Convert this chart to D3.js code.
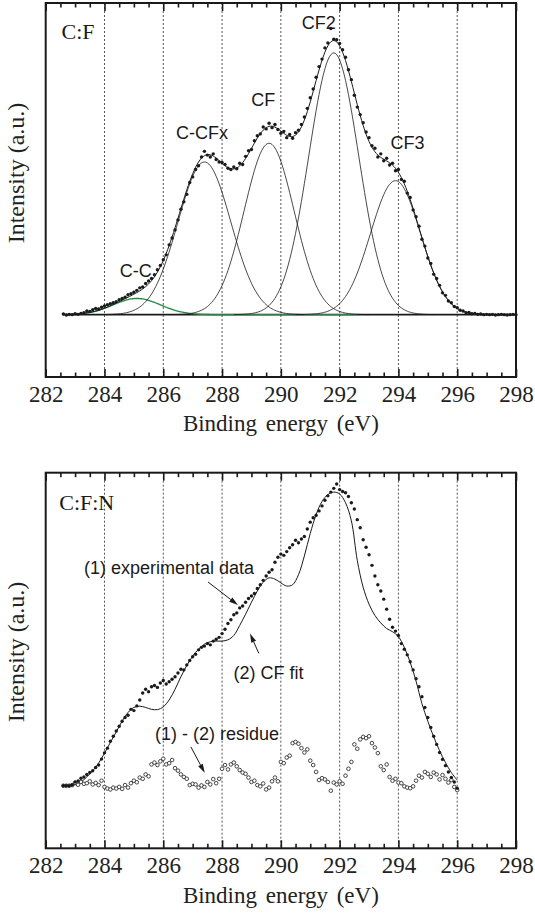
<!DOCTYPE html>
<html>
<head>
<meta charset="utf-8">
<script src="https://cdn.jsdelivr.net/npm/d3@7"></script>
<style>
  body { margin: 0; background: #fff; }
  #visualization { width: 535px; height: 913px; }
</style>
</head>
<body>
<div id="visualization"></div>
<script>

// ---- data ----
// C:F spectrum, dots, start 282.6 eV, one point every 0.1 eV
var cf_start = 282.6, cf_step = 0.1;
var cf_data = [
  0.2, -0.1, 0.1, 0.0, 0.3, 0.1, 0.4, 0.6, 1.2, 1.0,
  1.6, 2.0, 1.8, 2.4, 2.8, 3.2, 3.5, 3.8, 4.2, 4.8,
  5.2, 5.6, 6.4, 6.7, 7.2, 7.8, 8.6, 8.9, 10.0, 10.8,
  11.6, 12.8, 14.4, 15.8, 17.6, 19.2, 22.4, 24.6, 27.2, 30.4,
  33.8, 36.2, 38.6, 42.4, 44.2, 46.6, 47.8, 50.6, 52.4, 51.2,
  50.6, 51.6, 49.8, 49.0, 48.8, 48.2, 47.0, 46.6, 47.4, 46.8,
  48.6, 48.2, 50.8, 52.6, 53.0, 55.8, 57.4, 58.0, 60.2, 59.6,
  61.4, 60.0, 61.0, 59.4, 58.2, 58.8, 56.8, 57.8, 56.6, 58.4,
  59.2, 61.0, 63.4, 66.2, 69.6, 72.4, 76.2, 79.6, 82.0, 85.6,
  87.2, 91.8, 88.4, 88.2, 87.0, 85.0, 82.6, 78.6, 75.4, 70.4,
  66.6, 64.2, 61.6, 58.6, 56.8, 54.2, 53.4, 50.6, 51.6, 49.4,
  50.2, 48.0, 48.6, 46.2, 46.6, 43.4, 42.8, 39.0, 37.6, 33.6,
  31.4, 28.4, 24.2, 22.0, 18.2, 16.4, 13.0, 11.6, 9.4, 7.0,
  6.2, 4.4, 3.8, 2.6, 2.2, 1.4, 1.2, 0.6, 0.7, 0.3,
  0.4, 0.1, 0.2, 0.0, 0.1, 0.0, 0.1, -0.1, 0.0, 0.1,
  0.0, -0.1, 0.0, 0.1, 0.0
];

// fitted peaks of the C:F spectrum (centre eV, height, width)
var peak_names   = ["C-C", "C-CFx", "CF", "CF2", "CF3"];
var peak_centers = [285.1, 287.4, 289.6, 291.8, 293.9];
var peak_heights = [5.2, 49, 55, 84, 43];
var peak_widths  = [0.8, 0.9, 0.85, 0.85, 0.85];
var peak_from    = [283.0, 284.0, 286.2, 288.4, 290.5];
var peak_to      = [292.6, 290.8, 293.0, 295.2, 297.3];
var baseline_range = [282.6, 298];

// C:F:N spectrum, start 282.6 eV, every 0.1 eV
var cfn_start = 282.6, cfn_step = 0.1;
var cfn_data = [
  0, 0, 0, 0.2, 1.2, 1.5, 2.4, 2.8, 3.6, 4.2,
  4.8, 5.8, 6.6, 8.5, 10.5, 12.0, 14.2, 15.8, 17.5, 19.0,
  20.6, 21.8, 22.5, 24.4, 24.0, 25.5, 27.4, 29.6, 30.8, 30.0,
  31.6, 32.0, 31.4, 32.8, 33.6, 32.5, 33.2, 34.0, 34.8, 36.0,
  37.2, 37.0, 38.6, 40.0, 41.2, 42.0, 43.4, 44.2, 44.6, 45.4,
  45.0, 46.2, 46.8, 47.4, 48.6, 50.0, 51.8, 53.0, 54.6, 55.2,
  56.8, 57.4, 58.6, 59.8, 60.6, 61.4, 63.0, 64.2, 65.6, 67.0,
  68.2, 69.0, 71.4, 73.0, 74.0, 73.6, 74.8, 76.0, 77.0, 78.4,
  77.6, 78.8, 79.6, 82.0, 84.2, 85.6, 86.4, 87.8, 89.4, 91.2,
  92.6, 93.8, 95.0, 96.4, 94.6, 94.0, 93.6, 92.4, 90.4, 88.4,
  85.0, 82.4, 78.6, 76.2, 73.8, 70.4, 67.0, 64.2, 62.2, 59.6,
  56.4, 53.2, 50.6, 49.4, 48.0, 45.4, 43.6, 41.8, 39.6, 37.0,
  34.2, 31.6, 28.4, 25.0, 21.8, 18.6, 15.8, 13.2, 10.6, 8.4,
  6.4, 4.4, 2.6, 1.2, -0.8
];
// (1) - (2) residue, same energies
var cfn_residue = [
  0, 0, 0, 0.2, 0.9, 0.3, 1.2, 0.6, 0.8, 1.4,
  0.4, 0.9, 0.2, 1.6, -0.4, -0.9, -1.2, -0.6, -0.9, -0.4,
  -1.0, 0.2, -0.6, 0.8, 1.6, 1.1, 2.6, 2.2, 3.6, 3.0,
  6.8, 7.4, 6.6, 7.8, 8.6, 6.8, 7.2, 8.2, 5.6, 4.8,
  3.6, 2.8, 2.2, 0.2, 0.6, 0.4, -0.6, 0.1, -0.4, 1.2,
  0.4, 2.1, 0.8, 2.2, 5.4, 6.6, 5.2, 6.8, 7.4, 6.2,
  5.0, 4.2, 3.8, 2.6, 1.2, 1.6, 0.2, -0.2, 0.7, -1.2,
  -0.6, 1.4, 2.6, 1.4, 7.6, 7.2, 9.0, 9.6, 13.6, 14.0,
  13.4, 12.0, 10.6, 11.6, 8.0, 6.6, 4.4, 1.8, 2.4, 2.0,
  1.2, -1.6, 1.0, 0.4, 1.4, 0.6, 3.2, 5.4, 7.6, 13.2,
  11.8, 14.8, 15.6, 15.2, 15.8, 13.6, 12.2, 10.4, 6.2, 5.0,
  6.8, 2.8, 1.6, 2.2, 1.0, 0.8, -0.2, -0.6, -0.8, -0.2,
  1.6, 3.2, 2.6, 4.4, 3.8, 2.8, 4.2, 3.6, 2.0, 3.4,
  2.2, 1.0, 1.8, -0.4, -1.4
];
// (2) CF fit, start 282.6 eV, every 0.2 eV
var cfn_fit_start = 282.6, cfn_fit_step = 0.2;
var cfn_fit = [
  0, 0, 0.3, 1.2, 2.8, 4.8, 7.2, 10.4, 13.8, 17.2,
  20.6, 23.4, 25.0, 25.4, 25.0, 24.4, 24.3, 25.2, 27.4, 30.8,
  34.8, 38.4, 41.4, 43.6, 45.2, 46.0, 46.2, 46.2, 46.6, 48.0,
  51.2, 54.8, 58.6, 62.2, 65.0, 66.4, 66.0, 64.8, 63.8, 64.2,
  67.4, 73.4, 80.6, 86.6, 90.8, 93.0, 93.8, 93.2, 90.4, 84.6,
  72.0, 63.4, 58.0, 54.4, 52.0, 50.2, 49.2, 47.6, 44.2, 39.4,
  33.4, 26.2, 20.6, 15.6, 11.2, 7.4, 4.2, 1.8
];

// axis ticks
var major_ticks = [282, 284, 286, 288, 290, 292, 294, 296, 298];
var grid_ticks = [284, 286, 288, 290, 292, 294, 296];
var minor_ticks = d3.range(282.5, 298, 0.5).filter(function(d){ return d % 2 !== 0; });

// ---- layout ----
var W = 535, H = 913;
var serif = "'Liberation Serif', 'Times New Roman', serif";
var sans = "'Liberation Sans', Arial, sans-serif";

var svg = d3.select("#visualization").append("svg")
    .attr("width", W)
    .attr("height", H);

var x = d3.scaleLinear().domain([282, 298]).range([45.7, 516]);

var panel_top = {top: 3, bottom: 377, title: 431, ylabel: 173};
var panel_bot = {top: 472.7, bottom: 848.3, title: 903, ylabel: 652};

function make_y(p){
    return d3.scaleLinear().domain([-20, 100]).range([p.bottom, p.top]);
}
var y1 = make_y(panel_top);
var y2 = make_y(panel_bot);

function to_points(start, step, values){
    return values.map(function(v, i){ return [start + i * step, v]; });
}

function draw_axes(p){
    var g = svg.append("g");

    // dashed vertical guides
    g.selectAll(".grid")
        .data(grid_ticks)
        .enter().append("line")
        .attr("class", "grid")
        .attr("x1", function(d){ return x(d); })
        .attr("x2", function(d){ return x(d); })
        .attr("y1", p.top)
        .attr("y2", p.bottom)
        .attr("stroke", "#555")
        .attr("stroke-width", 1)
        .attr("stroke-dasharray", "2,2");

    var bottom_major = g.append("g")
        .attr("transform", "translate(0," + p.bottom + ")")
        .call(d3.axisBottom(x).tickValues(major_ticks).tickSize(-8).tickPadding(8.5).tickFormat(d3.format("d")));
    var bottom_minor = g.append("g")
        .attr("transform", "translate(0," + p.bottom + ")")
        .call(d3.axisBottom(x).tickValues(minor_ticks).tickSize(-4.5).tickFormat(""));
    var top_major = g.append("g")
        .attr("transform", "translate(0," + p.top + ")")
        .call(d3.axisTop(x).tickValues(major_ticks).tickSize(-8).tickFormat(""));
    var top_minor = g.append("g")
        .attr("transform", "translate(0," + p.top + ")")
        .call(d3.axisTop(x).tickValues(minor_ticks).tickSize(-4.5).tickFormat(""));

    [bottom_major, bottom_minor, top_major, top_minor].forEach(function(a){
        a.select(".domain").remove();
        a.selectAll("line").attr("stroke", "#1a1a1a").attr("stroke-width", 1.6);
    });
    bottom_major.selectAll("text")
        .attr("font-family", serif)
        .attr("font-size", 23)
        .attr("fill", "#222");

    // frame
    g.append("rect")
        .attr("x", x(282))
        .attr("y", p.top)
        .attr("width", x(298) - x(282))
        .attr("height", p.bottom - p.top)
        .attr("fill", "none")
        .attr("stroke", "#1a1a1a")
        .attr("stroke-width", 2);

    g.append("text")
        .attr("x", (x(282) + x(298)) / 2)
        .attr("y", p.title)
        .attr("text-anchor", "middle")
        .attr("font-family", serif)
        .attr("font-size", 23)
        .attr("word-spacing", 3)
        .attr("fill", "#222")
        .text("Binding energy (eV)");

    g.append("text")
        .attr("transform", "translate(24," + p.ylabel + ") rotate(-90)")
        .attr("text-anchor", "middle")
        .attr("font-family", serif)
        .attr("font-size", 24)
        .attr("fill", "#222")
        .text("Intensity (a.u.)");
}

function draw_label(txt, e, v, y, font, size, anchor){
    svg.append("text")
        .attr("x", x(e))
        .attr("y", y(v))
        .attr("text-anchor", anchor)
        .attr("font-family", font)
        .attr("font-size", size)
        .attr("fill", "#1a1a1a")
        .text(txt);
}

function draw_arrow(e1, v1, e2, v2, y){
    var x1 = x(e1), yy1 = y(v1), x2 = x(e2), yy2 = y(v2);
    var ang = Math.atan2(yy2 - yy1, x2 - x1);
    var len = 9, half = 2.6;
    var bx = x2 - len * Math.cos(ang), by = yy2 - len * Math.sin(ang);
    svg.append("line")
        .attr("x1", x1).attr("y1", yy1)
        .attr("x2", bx).attr("y2", by)
        .attr("stroke", "#1a1a1a")
        .attr("stroke-width", 1);
    svg.append("path")
        .attr("d", "M" + x2 + "," + yy2 +
                   "L" + (bx + half * Math.sin(ang)) + "," + (by - half * Math.cos(ang)) +
                   "L" + (bx - half * Math.sin(ang)) + "," + (by + half * Math.cos(ang)) + "Z")
        .attr("fill", "#1a1a1a");
}

// ---- top panel: C:F ----
draw_axes(panel_top);

function gauss(i, e){
    var d = (e - peak_centers[i]) / peak_widths[i];
    return peak_heights[i] * Math.exp(-0.5 * d * d);
}

var line1 = d3.line()
    .x(function(d){ return x(d[0]); })
    .y(function(d){ return y1(d[1]); });

// baseline
svg.append("line")
    .attr("x1", x(baseline_range[0]))
    .attr("x2", x(baseline_range[1]))
    .attr("y1", y1(0))
    .attr("y2", y1(0))
    .attr("stroke", "#1a1a1a")
    .attr("stroke-width", 1.6);

// single components
peak_names.forEach(function(name, i){
    var pts = d3.range(peak_from[i], peak_to[i] + 0.001, 0.05).map(function(e){ return [e, gauss(i, e)]; });
    svg.append("path")
        .datum(pts)
        .attr("d", line1)
        .attr("fill", "none")
        .attr("stroke", i === 0 ? "#1f8a45" : "#1a1a1a")
        .attr("stroke-width", i === 0 ? 1.3 : 0.8);
});

// envelope
var env = d3.range(baseline_range[0], baseline_range[1] + 0.001, 0.05).map(function(e){
    var s = 0;
    for (var i = 0; i < peak_names.length; i++){ s += gauss(i, e); }
    return [e, s];
});
svg.append("path")
    .datum(env)
    .attr("d", line1)
    .attr("fill", "none")
    .attr("stroke", "#1a1a1a")
    .attr("stroke-width", 1);

// measured points
svg.append("g").selectAll("circle")
    .data(to_points(cf_start, cf_step, cf_data))
    .enter().append("circle")
    .attr("cx", function(d){ return x(d[0]); })
    .attr("cy", function(d){ return y1(d[1]); })
    .attr("r", 1.7)
    .attr("fill", "#1a1a1a");

draw_label("C:F", 282.54, 88.4, y1, serif, 22, "start");
draw_label("CF2", 291.29, 91.7, y1, sans, 18, "middle");
draw_label("CF", 289.40, 67.0, y1, sans, 18, "middle");
draw_label("C-CFx", 287.32, 56.4, y1, sans, 18, "middle");
draw_label("CF3", 294.31, 53.2, y1, sans, 18, "middle");
draw_label("C-C", 285.06, 12.1, y1, sans, 18, "middle");

// ---- bottom panel: C:F:N ----
draw_axes(panel_bot);

var line2 = d3.line()
    .x(function(d){ return x(d[0]); })
    .y(function(d){ return y2(d[1]); })
    .curve(d3.curveCatmullRom.alpha(0.5));

svg.append("path")
    .datum(to_points(cfn_fit_start, cfn_fit_step, cfn_fit))
    .attr("d", line2)
    .attr("fill", "none")
    .attr("stroke", "#1a1a1a")
    .attr("stroke-width", 1);

svg.append("g").selectAll("circle")
    .data(to_points(cfn_start, cfn_step, cfn_residue))
    .enter().append("circle")
    .attr("cx", function(d){ return x(d[0]); })
    .attr("cy", function(d){ return y2(d[1]); })
    .attr("r", 1.8)
    .attr("fill", "#fff")
    .attr("stroke", "#1a1a1a")
    .attr("stroke-width", 0.8);

svg.append("g").selectAll("circle")
    .data(to_points(cfn_start, cfn_step, cfn_data))
    .enter().append("circle")
    .attr("cx", function(d){ return x(d[0]); })
    .attr("cy", function(d){ return y2(d[1]); })
    .attr("r", 1.7)
    .attr("fill", "#1a1a1a");

draw_label("C:F:N", 282.46, 88.1, y2, serif, 22, "start");
draw_label("(1) experimental data", 283.30, 67.6, y2, sans, 18, "start");
draw_label("(2) CF fit", 288.39, 34.1, y2, sans, 18, "start");
draw_label("(1) - (2) residue", 285.72, 14.6, y2, sans, 18, "start");

draw_arrow(287.52, 65.1, 288.54, 57.7, y2);
draw_arrow(289.25, 42.3, 288.95, 48.6, y2);
draw_arrow(286.94, 12.4, 287.41, 4.1, y2);

</script>
</body>
</html>
